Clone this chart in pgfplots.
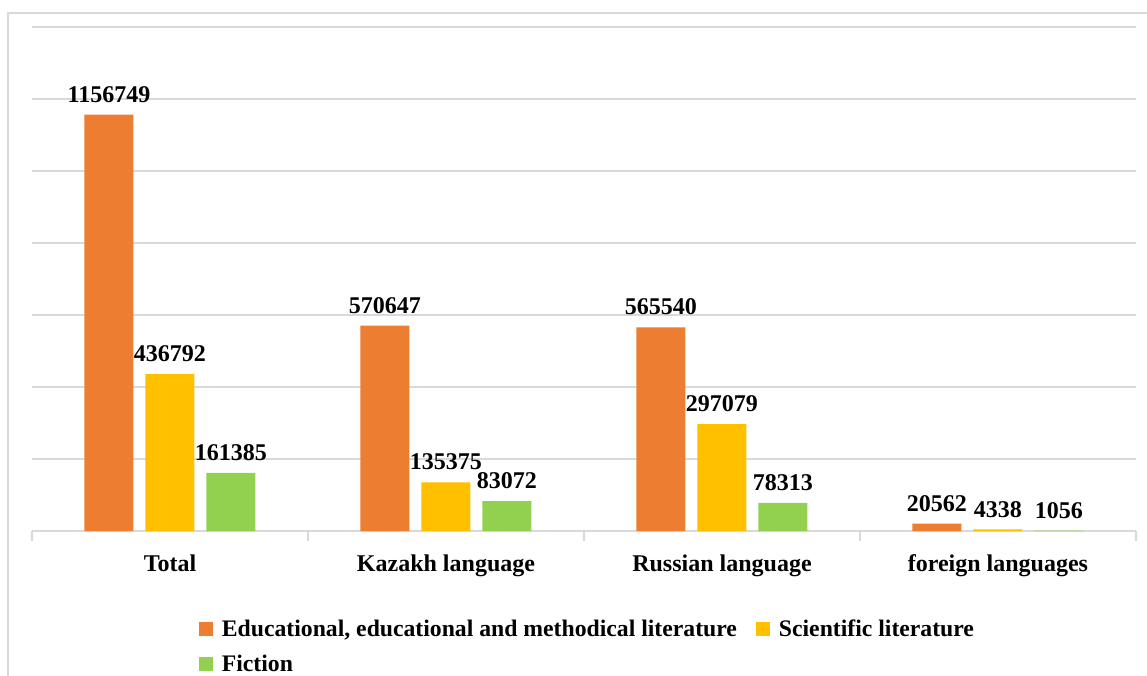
\documentclass[border=0pt]{standalone}
\usepackage{fontspec}
\setmainfont{Liberation Serif}
\usepackage{pgfplots}
\pgfplotsset{compat=1.18}
\definecolor{cOr}{HTML}{ED7D31}
\definecolor{cYe}{HTML}{FFC000}
\definecolor{cGr}{HTML}{92D050}
\definecolor{cGrid}{HTML}{D9D9D9}
\begin{document}
\begin{tikzpicture}
\useasboundingbox (0pt,0pt) rectangle (1147pt,675pt);
\draw[cGrid, line width=1.2pt] (8pt,-10pt) -- (8pt,662pt) -- (1160pt,662pt);
\begin{axis}[
  at={(32pt,144pt)}, anchor=south west,
  scale only axis, width=1104pt, height=504pt,
  ybar=12pt, bar width=49pt,
  xmin=-0.5, xmax=3.5, ymin=0, ymax=1400000,
  axis line style={draw=none},
  scaled y ticks=false,
  ytick={0,200000,400000,600000,800000,1000000,1200000,1400000},
  yticklabels={}, ytick style={draw=none},
  ymajorgrids, major grid style={cGrid, line width=1.2pt},
  xtick={-0.5,0.5,1.5,2.5,3.5},
  x tick label as interval,
  xticklabels={Total,Kazakh language,Russian language,foreign languages},
  xtick pos=bottom, tick align=outside, major tick length=10pt,
  xtick style={cGrid, line width=1.2pt},
  xticklabel style={font=\fontsize{24}{28}\selectfont\bfseries, yshift=-10pt},
  point meta=explicit symbolic,
  nodes near coords,
  every node near coord/.append style={font=\fontsize{24}{28}\selectfont\bfseries, anchor=south, inner sep=0pt, yshift=12pt},
  legend columns=2,
  legend cell align=left,
  legend style={draw=none, fill=none, at={(0.151,-0.176)}, anchor=north west,
    font=\fontsize{23.7}{28}\selectfont\bfseries, inner sep=0pt,
    column sep=9pt, row sep=17pt, nodes={inner sep=0pt, anchor=west}},
  /tikz/every even column/.append style={column sep=19pt},
  legend image code/.code={\fill[#1] (0pt,-7pt) rectangle (14pt,7pt);},
]
\addplot[fill=cOr, draw=none] coordinates {(0,1156749)[1156749] (1,570647)[570647] (2,565540)[565540] (3,20562)[20562]};
\addplot[fill=cYe, draw=none] coordinates {(0,436792)[436792] (1,135375)[135375] (2,297079)[297079] (3,4338)[4338]};
\addplot[fill=cGr, draw=none] coordinates {(0,161385)[161385] (1,83072)[83072] (2,78313)[78313] (3,1056)[1056]};
\legend{{Educational, educational and methodical literature}, {Scientific literature}, {Fiction}}
\end{axis}
\end{tikzpicture}
\end{document}
